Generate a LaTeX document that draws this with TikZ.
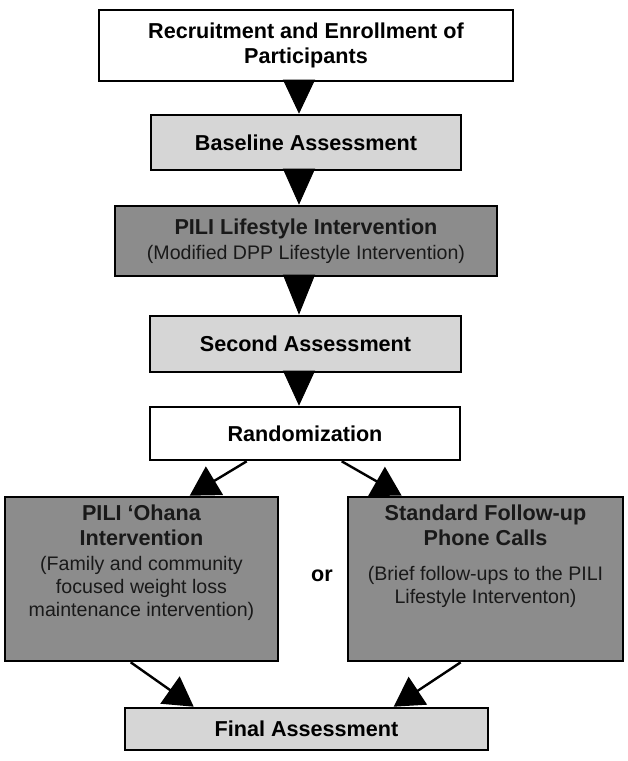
\documentclass[tikz,border=0pt]{standalone}
\usepackage{fontspec}
\setmainfont{Liberation Sans}
\usetikzlibrary{arrows.meta}
\definecolor{lightdot}{gray}{0.84}
\definecolor{darkdot}{gray}{0.55}
\newcommand{\subtxt}{\mdseries\fontsize{19.6}{23}\selectfont}
\tikzset{
  flowbox/.style = {draw=black, line width=2.6pt, align=center, inner sep=0pt,
    font=\bfseries\fontsize{21.6}{25}\selectfont},
  plainbox/.style = {flowbox, fill=white},% white box
  lightbox/.style = {flowbox, fill=lightdot},% assessment box
  darkbox/.style = {flowbox, fill=darkdot, text=black!90},% intervention box
  boxtext/.style = {align=center, inner sep=0pt, text=black!90,
    font=\bfseries\fontsize{21.6}{25}\selectfont},
  bigtip/.style = {-{Triangle[length=#1,width=32pt]}, line width=0.8pt},
  sidearrow/.style = {line width=2.4pt, -{Triangle[length=29pt,width=33pt]}}
}

\begin{document}
\begin{tikzpicture}[x=1pt, y=-1pt]
	\fill[white] (0,0) rectangle (628,761);
	\useasboundingbox (0,0) rectangle (628,761);
	% boxes
	\node[plainbox, minimum width=414pt, minimum height=71pt] (recruit) at (306,45.5)
		{Recruitment and Enrollment of\\Participants};
	\node[lightbox, minimum width=310pt, minimum height=55pt] (baseline) at (306,142.5)
		{Baseline Assessment};
	\node[darkbox, minimum width=382pt, minimum height=70pt] (lifestyle) at (306,241)
		{PILI Lifestyle Intervention\\\subtxt (Modified DPP Lifestyle Intervention)};
	\node[lightbox, minimum width=311pt, minimum height=56pt] (second) at (305.5,344)
		{Second Assessment};
	\node[plainbox, minimum width=310pt, minimum height=53pt] (random) at (305,433.5)
		{Randomization};
	\node[darkbox, minimum width=273pt, minimum height=164pt] (ohana) at (141.5,579) {};
	\node[boxtext, anchor=north] (ohanatext) at ([yshift=-9pt]ohana.north)
		{PILI ‘Ohana\\Intervention\\\subtxt (Family and community\\[-2pt]\subtxt focused weight loss\\[-2pt]\subtxt maintenance intervention)};
	\node[darkbox, minimum width=275pt, minimum height=164pt] (phone) at (485.5,579) {};
	\node[boxtext, anchor=north] (phonetext) at ([yshift=-9pt]phone.north)
		{Standard Follow-up\\Phone Calls\\[10pt]\subtxt (Brief follow-ups to the PILI\\[-2pt]\subtxt Lifestyle Interventon)};
	\node[font=\bfseries\fontsize{21.6}{25}\selectfont, inner sep=0pt] (ortext) at (322,576) {or};
	\node[lightbox, minimum width=363pt, minimum height=42pt] (final) at (306.5,729)
		{Final Assessment};
	% arrows
	\draw[bigtip=34pt] ([xshift=-7pt]recruit.south) -- ([xshift=-7pt]baseline.north);
	\draw[bigtip=36pt] ([xshift=-7pt]baseline.south) -- ([xshift=-7pt]lifestyle.north);
	\draw[bigtip=40pt] ([xshift=-7pt]lifestyle.south) -- ([xshift=-6.5pt]second.north);
	\draw[bigtip=35pt] ([xshift=-6.5pt]second.south) -- ([xshift=-6pt]random.north);
	\draw[sidearrow] ([xshift=98pt]random.south west) -- ([xshift=186pt]ohana.north west);
	\draw[sidearrow] ([xshift=193pt]random.south west) -- ([xshift=55pt]phone.north west);
	\draw[sidearrow] ([xshift=127pt]ohana.south west) -- ([xshift=70pt]final.north west);
	\draw[sidearrow] ([xshift=114pt]phone.south west) -- ([xshift=270pt]final.north west);
\end{tikzpicture}
\end{document}
